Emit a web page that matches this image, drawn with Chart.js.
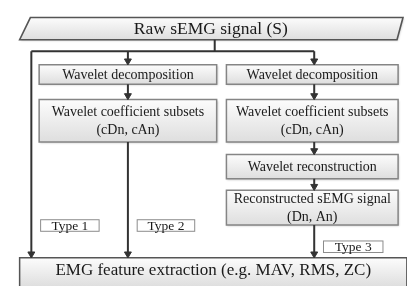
<!DOCTYPE html>
<html>
<head>
<meta charset="utf-8">
<script src="https://cdn.jsdelivr.net/npm/chart.js@4"></script>
<style>
html,body{margin:0;padding:0;background:#fff;}
#wrap{width:407px;height:286px;position:relative;}
</style>
</head>
<body>
<div id="wrap"><canvas id="c"></canvas></div>
<script>
// ---- content (text) ----
const nodeTexts = [
  ["Raw sEMG signal (S)"],
  ["Wavelet decomposition"],
  ["Wavelet coefficient subsets", "(cDn, cAn)"],
  ["Wavelet decomposition"],
  ["Wavelet coefficient subsets", "(cDn, cAn)"],
  ["Wavelet reconstruction"],
  ["Reconstructed sEMG signal", "(Dn, An)"],
  ["EMG feature extraction (e.g. MAV, RMS, ZC)"]
];
const typeLabels = ["Type 1", "Type 2", "Type 3"];

// ---- layout in diagram units (x: 0..407, y: 0..286 downwards) ----
const nodeBoxes = [
  [15, 13, 407, 36],
  [35, 62, 217, 82],
  [35, 98, 217, 142],
  [227, 62, 403, 82],
  [227, 98, 403, 142],
  [227, 155, 403, 180],
  [227, 192, 403, 228],
  [15, 262, 412, 292]
];
const nodeFont = [17.5, 14, 14, 14, 14, 14, 14, 17];
const typeBoxes = [
  [36, 222, 97, 235],
  [135, 222, 195, 235],
  [326, 244, 388, 257]
];
// connectors: [x1,y1,x2,y2,arrow]
const connectors = [
  [215, 36, 215, 48, 0],
  [27, 48, 317, 48, 0],
  [27, 48, 27, 262, 1],
  [126, 48, 126, 62, 1],
  [317, 48, 317, 62, 1],
  [126, 82, 126, 98, 1],
  [317, 82, 317, 98, 1],
  [126, 142, 126, 262, 1],
  [317, 142, 317, 155, 1],
  [317, 180, 317, 192, 1],
  [317, 228, 317, 262, 1]
];

const AR = 4; // arrow radius
const datasets = connectors.map(c => ({
  type: 'scatter',
  showLine: true,
  data: [{x: c[0], y: c[1]}, {x: c[2], y: c[3] - (c[4] ? AR : 0)}],
  borderColor: '#333',
  borderWidth: 2,
  pointRadius: 0,
  clip: false
}));
datasets.push({
  type: 'scatter',
  showLine: false,
  data: connectors.filter(c => c[4]).map(c => ({x: c[2], y: c[3] - AR})),
  pointStyle: 'triangle',
  rotation: 180,
  pointRadius: AR,
  pointBackgroundColor: '#333',
  pointBorderColor: '#333',
  pointBorderWidth: 1,
  clip: false
});

const boxPlugin = {
  id: 'boxes',
  beforeDatasetsDraw(chart) {
    const ctx = chart.ctx, sx = chart.scales.x, sy = chart.scales.y;
    const X = v => sx.getPixelForValue(v), Y = v => sy.getPixelForValue(v);
    ctx.save();
    nodeBoxes.forEach((b, i) => {
      const x0 = X(b[0]), y0 = Y(b[1]), x1 = X(b[2]), y1 = Y(b[3]);
      const g = ctx.createLinearGradient(0, y0, 0, y1);
      g.addColorStop(0, '#fcfcfc');
      g.addColorStop(1, '#dedede');
      ctx.beginPath();
      if (i === 0) {
        ctx.moveTo(X(b[0] + 11), y0);
        ctx.lineTo(x1 + 1, y0);
        ctx.lineTo(x1 - 5, y1);
        ctx.lineTo(x0, y1);
        ctx.closePath();
        ctx.strokeStyle = '#555';
        ctx.lineWidth = 1.6;
      } else {
        ctx.rect(x0, y0, x1 - x0, y1 - y0);
        ctx.strokeStyle = i === 7 ? '#555' : '#858585';
        ctx.lineWidth = 1.5;
      }
      ctx.shadowColor = 'rgba(0,0,0,0.22)';
      ctx.shadowOffsetX = 1;
      ctx.shadowOffsetY = 1;
      ctx.shadowBlur = 2;
      ctx.fillStyle = g;
      ctx.fill();
      ctx.shadowColor = 'rgba(0,0,0,0)';
      ctx.stroke();
      const lines = nodeTexts[i];
      const fs = nodeFont[i];
      ctx.font = fs + 'px "Liberation Serif", "Times New Roman", serif';
      ctx.fillStyle = '#1a1a1a';
      ctx.textAlign = 'center';
      ctx.textBaseline = 'middle';
      const cx = (x0 + x1) / 2;
      let cy = i === 7 ? Y(275) : (y0 + y1) / 2;
      const lh = 18;
      lines.forEach((t, k) => {
        ctx.fillText(t, cx, cy + (k - (lines.length - 1) / 2) * lh + 0.5);
      });
    });
    typeBoxes.forEach((b, i) => {
      const x0 = X(b[0]), y0 = Y(b[1]), x1 = X(b[2]), y1 = Y(b[3]);
      ctx.fillStyle = '#fff';
      ctx.fillRect(x0, y0, x1 - x0, y1 - y0);
      ctx.strokeStyle = '#8c8c8c';
      ctx.lineWidth = 1;
      ctx.strokeRect(x0 + 0.5, y0 + 0.5, x1 - x0 - 1, y1 - y0 - 1);
      ctx.font = '13.5px "Liberation Serif", "Times New Roman", serif';
      ctx.fillStyle = '#1a1a1a';
      ctx.textAlign = 'center';
      ctx.textBaseline = 'middle';
      ctx.fillText(typeLabels[i], (x0 + x1) / 2, (y0 + y1) / 2 + 0.5);
    });
    ctx.restore();
  }
};

new Chart(document.getElementById('c'), {
  data: {datasets},
  options: {
    responsive: true,
    maintainAspectRatio: false,
    devicePixelRatio: 1,
    animation: false,
    layout: {padding: 0},
    plugins: {legend: {display: false}, tooltip: {enabled: false}},
    scales: {
      x: {type: 'linear', min: 0, max: 407, display: false},
      y: {type: 'linear', min: 0, max: 286, reverse: true, display: false}
    }
  },
  plugins: [boxPlugin]
});
</script>
</body>
</html>
